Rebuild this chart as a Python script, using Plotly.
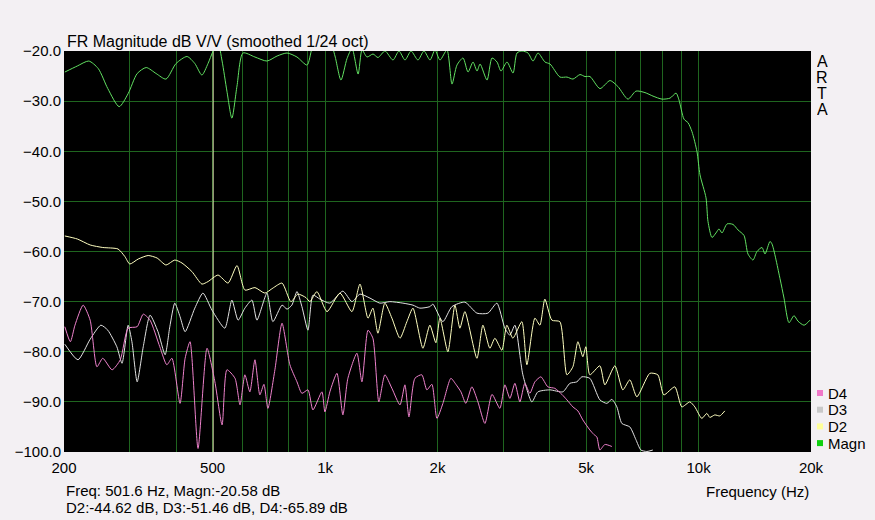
import plotly.graph_objects as go
import numpy as np

# ---------------- data ----------------
magn_f = [201, 217, 233, 247, 262, 281, 297, 314, 332, 353, 375, 399, 427, 448, 468, 486, 501, 517, 530, 546,
          563, 581, 603, 649, 699, 744, 791, 841, 895, 923, 969, 1031, 1063, 1103, 1145, 1181, 1226, 1256, 1295,
          1344, 1386, 1447, 1520, 1577, 1637, 1699, 1773, 1840, 1910, 1969, 2031, 2120, 2187, 2255, 2341, 2414,
          2490, 2552, 2600, 2714, 2799, 2887, 2958, 3070, 3186, 3265, 3367, 3494, 3604, 3717, 3880, 4002, 4256,
          4444, 4611, 4814, 4965, 5121, 5446, 5792, 6084, 6471, 6800, 7188, 7551, 7982, 8387, 8704, 8866, 9142,
          9370, 9603, 9904, 10089, 10470, 10598, 10865, 11134, 11343, 11554, 11916, 12366, 12754, 13232, 13562,
          13986, 14335, 14785, 15063, 15532, 15726, 16521, 16933, 17464, 18011, 18460, 19158, 19876]
magn_db = [-24.2, -23.0, -22.0, -23.5, -27.5, -31.1, -28.5, -24.5, -23.3, -24.5, -25.6, -22.5, -21.1, -22.5,
           -24.8, -22.5, -20.1, -18.5, -22.0, -28.0, -33.4, -27.0, -20.4, -21.2, -22.0, -21.0, -20.4, -21.2,
           -22.8, -19.5, -17.0, -18.0, -21.0, -25.8, -21.5, -19.5, -24.6, -19.8, -21.2, -20.6, -21.3, -20.0,
           -21.8, -20.0, -21.8, -20.0, -21.8, -20.0, -21.8, -19.8, -21.8, -19.8, -26.6, -22.8, -21.4, -24.2,
           -22.2, -24.0, -22.6, -25.8, -21.4, -22.2, -24.0, -22.2, -24.4, -20.4, -20.0, -20.4, -22.0, -20.4,
           -22.2, -22.6, -25.2, -25.2, -25.6, -24.7, -25.1, -25.1, -27.5, -25.9, -27.1, -29.6, -28.0, -28.3,
           -29.0, -29.6, -29.4, -28.4, -29.8, -33.6, -34.3, -36.1, -40.1, -44.7, -49.3, -54.0, -57.2, -56.3,
           -55.5, -56.3, -54.5, -54.6, -55.7, -56.8, -60.5, -61.7, -60.0, -59.2, -60.5, -58.0, -58.5, -65.4,
           -69.3, -74.2, -72.8, -73.9, -74.7, -73.7]

d2_f = [201, 217, 235, 254, 279, 291, 300, 316, 336, 355, 375, 396, 414, 440, 468, 486, 517, 550, 581, 610,
        649, 690, 725, 767, 810, 846, 889, 911, 951, 1012, 1096, 1180, 1240, 1303, 1343, 1385, 1446, 1510,
        1587, 1656, 1719, 1828, 1908, 1980, 2030, 2132, 2227, 2296, 2368, 2550, 2646, 2762, 2849, 2974, 3067,
        3183, 3364, 3470, 3646, 3760, 3877, 4048, 4253, 4441, 4608, 4752, 4900, 4991, 5116, 5442, 5612, 5969,
        6270, 6547, 6836, 7405, 7780, 8072, 8639, 9020, 9475, 9772, 10202, 10522, 10718, 11054, 11400, 11756]
d2_db = [-56.9, -57.5, -58.7, -59.2, -59.5, -61.0, -62.5, -61.5, -60.8, -61.3, -62.7, -61.7, -62.3, -64.0,
         -66.5, -66.0, -64.7, -66.3, -62.8, -67.7, -67.2, -68.3, -67.3, -66.3, -70.0, -68.5, -69.2, -70.0,
         -68.0, -72.0, -68.3, -72.0, -66.5, -73.3, -71.3, -76.3, -70.3, -73.3, -77.3, -74.0, -71.3, -79.3,
         -74.7, -78.2, -73.3, -80.0, -70.7, -75.3, -72.0, -81.3, -74.7, -79.3, -77.3, -79.7, -74.7, -77.3,
         -74.0, -82.6, -73.3, -74.7, -69.5, -73.7, -74.0, -84.6, -83.0, -78.0, -81.0, -79.0, -84.6, -82.8,
         -86.6, -82.8, -87.6, -85.6, -89.0, -84.3, -84.6, -88.6, -87.0, -91.0, -90.0, -91.0, -93.3, -92.3,
         -93.1, -92.6, -92.8, -91.8]

d3_f = [201, 218, 235, 251, 262, 277, 286, 297, 304, 314, 326, 340, 357, 373, 384, 396, 409, 422, 448, 471,
        498, 539, 563, 585, 610, 637, 657, 699, 725, 767, 791, 815, 841, 867, 900, 928, 969, 1030, 1116, 1180,
        1240, 1319, 1402, 1491, 1616, 1719, 1794, 1908, 1944, 2067, 2186, 2368, 2550, 2729, 2884, 3030, 3125,
        3223, 3385, 3578, 3714, 3998, 4332, 4523, 4723, 4870, 5116, 5442, 5681, 5859, 6043, 6232, 6547, 6793,
        7006, 7269, 7543]
d3_db = [-78.5, -81.6, -77.5, -74.7, -75.7, -79.0, -82.3, -74.7, -78.0, -86.0, -79.0, -72.7, -76.0, -80.6,
         -75.0, -70.3, -73.0, -76.0, -71.3, -68.3, -71.7, -75.3, -69.7, -73.7, -71.3, -69.7, -73.7, -68.3,
         -74.0, -70.7, -71.5, -70.7, -68.0, -71.0, -75.7, -68.7, -69.5, -70.3, -67.9, -70.0, -68.5, -69.3,
         -70.3, -70.0, -70.3, -70.7, -71.3, -71.0, -70.5, -74.0, -71.0, -70.1, -72.3, -72.3, -70.3, -75.3,
         -76.7, -74.7, -84.6, -90.0, -88.0, -87.6, -88.0, -86.3, -86.0, -85.0, -85.3, -89.6, -90.3, -89.5,
         -91.0, -94.3, -95.0, -97.5, -99.6, -99.9, -99.6]

d4_f = [201, 208, 214, 225, 235, 245, 254, 269, 283, 297, 314, 326, 340, 361, 377, 389, 409, 422, 435, 457,
        483, 507, 530, 546, 574, 592, 610, 629, 649, 669, 686, 703, 734, 767, 805, 841, 867, 900, 928, 981,
        999, 1030, 1076, 1116, 1151, 1217, 1255, 1303, 1343, 1393, 1446, 1510, 1587, 1636, 1677, 1740, 1816,
        1873, 1932, 1993, 2068, 2172, 2240, 2311, 2382, 2472, 2566, 2679, 2799, 2938, 3030, 3125, 3223, 3324,
        3427, 3534, 3646, 3783, 3949, 4123, 4305, 4441, 4608, 4752, 4900, 5116, 5244, 5342, 5442, 5612, 5859]
d4_db = [-75.0, -78.0, -74.7, -70.7, -73.7, -83.0, -81.3, -83.6, -81.6, -75.3, -75.0, -72.5, -73.7, -79.0,
         -82.6, -81.3, -90.3, -81.3, -78.0, -99.3, -79.3, -86.0, -94.6, -83.6, -85.3, -90.6, -84.6, -88.0,
         -81.6, -88.6, -86.5, -91.3, -83.6, -74.3, -82.6, -86.0, -88.3, -87.6, -91.6, -88.0, -92.0, -88.0,
         -84.3, -92.6, -85.3, -80.3, -86.0, -75.7, -77.3, -90.0, -84.6, -87.3, -90.6, -86.6, -93.0, -85.3,
         -84.6, -87.6, -86.5, -93.3, -90.3, -85.3, -86.5, -88.0, -90.3, -87.0, -90.0, -94.3, -88.5, -91.3,
         -86.6, -89.3, -86.3, -90.0, -86.3, -88.3, -86.0, -85.0, -87.0, -87.3, -88.5, -89.6, -91.0, -91.8,
         -93.6, -95.6, -96.5, -97.0, -99.6, -98.5, -98.9]

cursor_freq = 501.6

grid_vals = [200, 300, 400, 500, 600, 700, 800, 900, 1000, 2000, 3000, 4000, 5000, 6000, 7000, 8000, 9000,
             10000, 20000]
grid_text = ["200", "", "", "500", "", "", "", "", "1k", "2k", "", "", "5k", "", "", "", "", "10k", "20k"]
y_ticks = [-100, -90, -80, -70, -60, -50, -40, -30, -20]

legend_names = ["D4", "D3", "D2", "Magn"]
legend_colors = ["#F078C8", "#C8C8C8", "#FFFF99", "#10D010"]

title_text = "FR Magnitude dB V/V (smoothed 1/24 oct)"
info_line1 = "Freq: 501.6 Hz, Magn:-20.58 dB"
info_line2 = "D2:-44.62 dB, D3:-51.46 dB, D4:-65.89 dB"
xlabel = "Frequency (Hz)"
brand = "ARTA"

# ---------------- figure ----------------
FONT = "Arial, 'Liberation Sans', sans-serif"
W, H = 875, 520
L, R, T, B = 64, 64, 51, 68
pw, ph = W - L - R, H - T - B

fig = go.Figure()

fig.add_trace(go.Scatter(x=[cursor_freq, cursor_freq], y=[-100, -20], mode="lines",
                         line=dict(color="#E6E6B4", width=1), hoverinfo="skip", showlegend=False))
fig.add_trace(go.Scatter(x=magn_f, y=magn_db, mode="lines",
                         line=dict(color="#62E062", width=1, shape="spline", smoothing=0.7),
                         name="Magn", showlegend=False))
fig.add_trace(go.Scatter(x=d3_f, y=d3_db, mode="lines",
                         line=dict(color="#E2E2E2", width=1, shape="spline", smoothing=0.6),
                         name="D3", showlegend=False))
fig.add_trace(go.Scatter(x=d2_f, y=d2_db, mode="lines",
                         line=dict(color="#FFFFC0", width=1, shape="spline", smoothing=0.6),
                         name="D2", showlegend=False))
fig.add_trace(go.Scatter(x=d4_f, y=d4_db, mode="lines",
                         line=dict(color="#EE82CC", width=1, shape="spline", smoothing=0.6),
                         name="D4", showlegend=False))

grid_col = "#1F651F"
fig.update_xaxes(type="log", range=[np.log10(200), np.log10(20000)], tickvals=grid_vals, ticktext=grid_text,
                 showgrid=True, gridcolor=grid_col, gridwidth=1, ticks="", zeroline=False, showline=False,
                 tickfont=dict(family=FONT, size=15, color="#000000"), ticklabelstandoff=5)
fig.update_yaxes(range=[-100, -20], tickvals=y_ticks, tickformat=".1f", showgrid=True, gridcolor=grid_col,
                 gridwidth=1, ticks="", zeroline=False, showline=False,
                 tickfont=dict(family=FONT, size=15, color="#000000"), ticklabelstandoff=2)

def px_x(px):
    return (px - L) / pw

def px_y(py):
    return (H - B - py) / ph

ann = []
ann.append(dict(text=title_text, x=px_x(65), y=px_y(41), xref="paper", yref="paper", xanchor="left",
                yanchor="middle", showarrow=False, font=dict(family=FONT, size=16, color="#000")))
ann.append(dict(text=info_line1, x=px_x(64), y=px_y(490), xref="paper", yref="paper", xanchor="left",
                yanchor="middle", showarrow=False, font=dict(family=FONT, size=15, color="#000")))
ann.append(dict(text=info_line2, x=px_x(64), y=px_y(507), xref="paper", yref="paper", xanchor="left",
                yanchor="middle", showarrow=False, font=dict(family=FONT, size=15, color="#000")))
ann.append(dict(text=xlabel, x=px_x(811), y=px_y(491), xref="paper", yref="paper", xanchor="right",
                yanchor="middle", showarrow=False, font=dict(family=FONT, size=15, color="#000")))
for i, ch in enumerate(brand):
    ann.append(dict(text=ch, x=px_x(822), y=px_y(61.5 + 16 * i), xref="paper", yref="paper",
                    xanchor="center", yanchor="middle", showarrow=False, height=15, borderpad=0,
                    font=dict(family=FONT, size=16, color="#000")))

shapes = []
for i, (nm, col) in enumerate(zip(legend_names, legend_colors)):
    cy = 393 + 16.7 * i
    shapes.append(dict(type="rect", xref="paper", yref="paper", x0=px_x(817), x1=px_x(823),
                       y0=px_y(cy + 3), y1=px_y(cy - 3), fillcolor=col, line=dict(width=0)))
    ann.append(dict(text=nm, x=px_x(826), y=px_y(cy), xref="paper", yref="paper", xanchor="left",
                    yanchor="middle", showarrow=False, font=dict(family=FONT, size=15, color="#000")))

fig.update_layout(width=W, height=H, margin=dict(l=L, r=R, t=T, b=B, autoexpand=False),
                  paper_bgcolor="#F3F0F3", plot_bgcolor="#000000", showlegend=False,
                  annotations=ann, shapes=shapes)

fig.write_html("out.html")
